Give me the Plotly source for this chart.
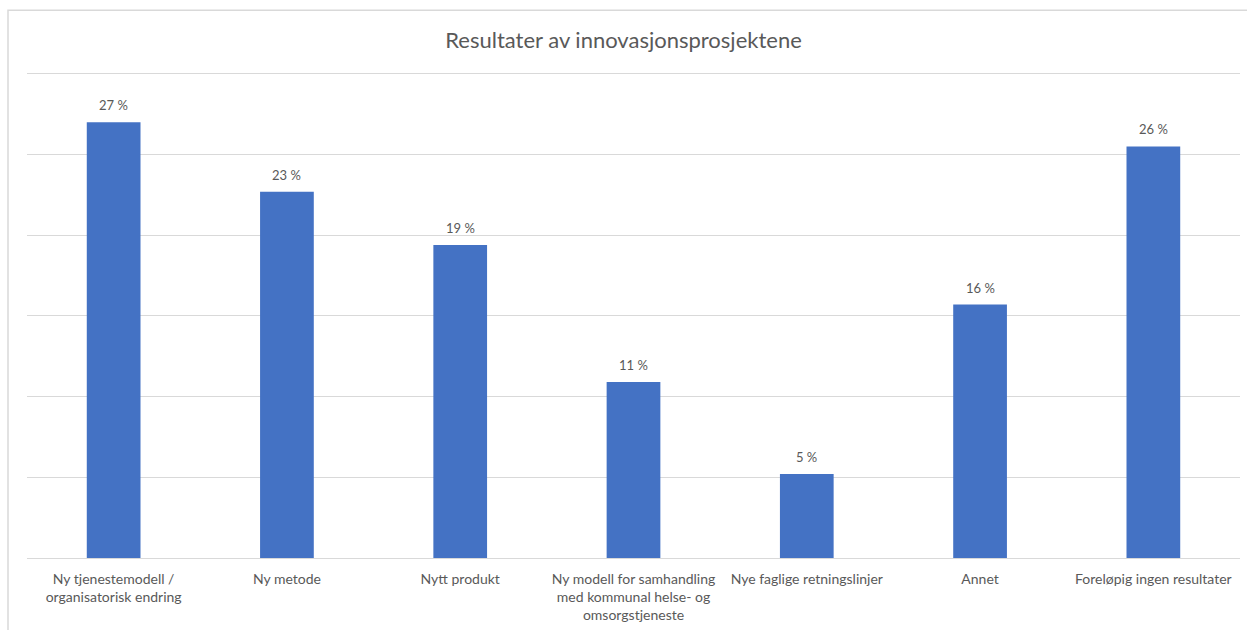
import plotly.graph_objects as go

categories = [
    "Ny tjenestemodell /<br>organisatorisk endring",
    "Ny metode",
    "Nytt produkt",
    "Ny modell for samhandling<br>med kommunal helse- og<br>omsorgstjeneste",
    "Nye faglige retningslinjer",
    "Annet",
    "Foreløpig ingen resultater",
]
values = [27.0, 22.7, 19.4, 10.9, 5.2, 15.7, 25.5]
labels = ["27 %", "23 %", "19 %", "11 %", "5 %", "16 %", "26 %"]

FONT = "Lato, 'Open Sans', sans-serif"
GREY_TXT = "#595959"
GRID = "#d9d9d9"

fig = go.Figure(
    go.Bar(
        x=categories,
        y=values,
        marker=dict(color="#4472C4", line=dict(width=0)),
        hoverinfo="skip",
    )
)

annotations = [
    dict(
        x=c,
        y=v,
        xref="x",
        yref="y",
        text=t,
        showarrow=False,
        yanchor="bottom",
        yshift=7,
        font=dict(family=FONT, size=13, color=GREY_TXT),
    )
    for c, v, t in zip(categories, values, labels)
]

TOP = 69
fig.update_layout(
    width=1247,
    height=630,
    margin=dict(l=27, r=7, t=TOP, b=70),
    paper_bgcolor="white",
    plot_bgcolor="white",
    bargap=0.69,
    showlegend=False,
    annotations=annotations,
    title=dict(
        text="Resultater av innovasjonsprosjektene",
        x=0.5,
        xanchor="center",
        y=1 - 40 / 630,
        yanchor="middle",
        font=dict(family=FONT, size=22, color=GREY_TXT),
    ),
    font=dict(family=FONT, color=GREY_TXT),
    shapes=[
        dict(
            type="rect",
            xref="paper",
            yref="paper",
            x0=(8 - 27) / 1213,
            x1=1.2,
            y0=-0.5,
            y1=1 + (TOP - 10) / 491,
            line=dict(color=GRID, width=1.5),
            fillcolor="rgba(0,0,0,0)",
            layer="below",
        )
    ],
)

fig.update_xaxes(
    showline=True,
    linecolor=GRID,
    linewidth=1,
    ticks="",
    ticklabelstandoff=8,
    tickfont=dict(family=FONT, size=14, color=GREY_TXT),
    showgrid=False,
)
fig.update_yaxes(
    range=[0, 30.3],
    dtick=5,
    showgrid=True,
    gridcolor=GRID,
    gridwidth=1,
    showticklabels=False,
    zeroline=False,
    showline=False,
)

fig.write_html("out.html")
